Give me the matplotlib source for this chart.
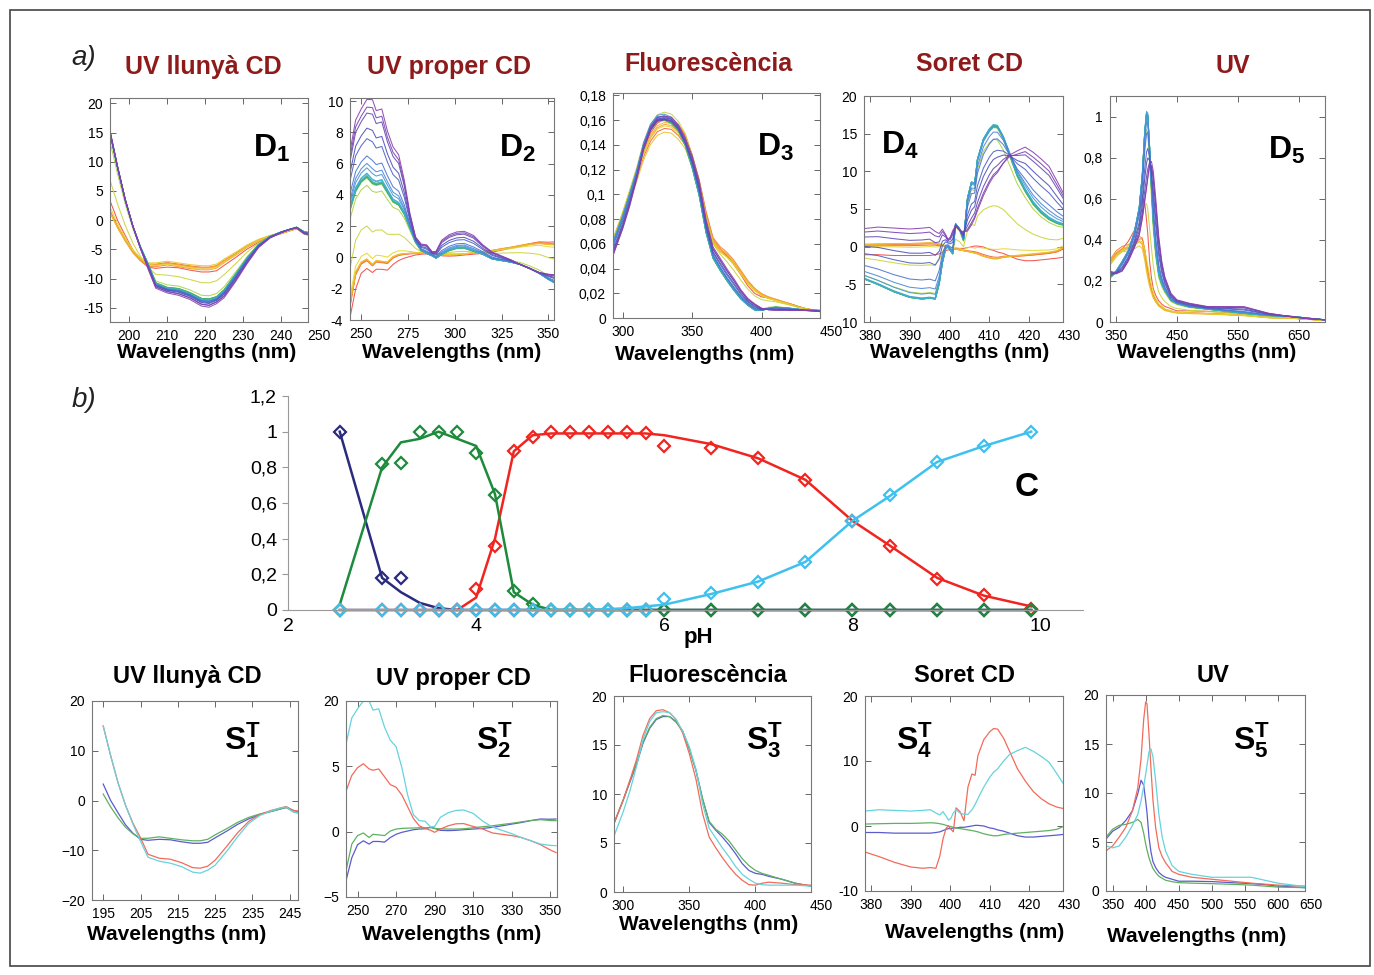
import matplotlib
matplotlib.use("Agg")
import matplotlib.pyplot as plt
import numpy as np
from matplotlib import font_manager
from matplotlib.colors import LinearSegmentedColormap
from matplotlib.patches import Rectangle

W, H = 1374, 975

# fonts
names = {f.name for f in font_manager.fontManager.ttflist}
WIDE = "Liberation Sans"
NARROW = "Liberation Sans Narrow" if "Liberation Sans Narrow" in names else WIDE
plt.rcParams["font.family"] = [WIDE, "DejaVu Sans"]
plt.rcParams["mathtext.fontset"] = "custom"
plt.rcParams["mathtext.bf"] = WIDE + ":bold"
plt.rcParams["mathtext.rm"] = WIDE

# ---- concentration profiles (C) ----
ph = [2.55, 3.0, 3.2, 3.4, 3.6, 3.8, 4.0, 4.2, 4.4, 4.6, 4.8, 5.0, 5.2,
      5.4, 5.6, 5.8, 6.0, 6.5, 7.0, 7.5, 8.0, 8.4, 8.9, 9.4, 9.9]
c1_fit = [1.0, 0.18, 0.10, 0.04, 0.01, 0, 0, 0, 0, 0, 0, 0, 0,
          0, 0, 0, 0, 0, 0, 0, 0, 0, 0, 0, 0]
c2_fit = [0.03, 0.80, 0.94, 0.96, 1.0, 0.96, 0.92, 0.65, 0.10, 0.03, 0, 0, 0,
          0, 0, 0, 0, 0, 0, 0, 0, 0, 0, 0, 0]
c3_fit = [0, 0, 0, 0, 0, 0, 0.07, 0.40, 0.89, 0.98, 0.99, 0.99, 0.99,
          0.99, 0.99, 0.99, 0.98, 0.93, 0.85, 0.73, 0.50, 0.36, 0.18, 0.08, 0.02]
c4_fit = [0, 0, 0, 0, 0, 0, 0, 0, 0, 0, 0, 0, 0,
          0.005, 0.01, 0.02, 0.03, 0.09, 0.16, 0.27, 0.50, 0.64, 0.83, 0.92, 1.0]
c1_pts = [1.0, 0.18, 0.18, 0, 0, 0, 0, 0, 0, 0, 0, 0, 0,
          0, 0, 0, 0, 0, 0, 0, 0, 0, 0, 0, 0]
c2_pts = [0, 0.82, 0.825, 1.0, 1.0, 1.0, 0.88, 0.645, 0.104, 0.035, 0, 0, 0,
          0, 0, 0, 0, 0, 0, 0, 0, 0, 0, 0, 0]
c3_pts = [0, 0, 0, 0, 0, 0, 0.117, 0.357, 0.894, 0.972, 1.0, 1.0, 1.0,
          1.0, 1.0, 0.993, 0.922, 0.907, 0.85, 0.731, 0.50, 0.357, 0.174, 0.083, 0.005]
c4_pts = [0, 0, 0, 0, 0, 0, 0, 0, 0, 0, 0, 0, 0,
          0, 0, 0, 0.061, 0.096, 0.157, 0.269, 0.50, 0.643, 0.83, 0.922, 0.996]

# ---- pure spectra (S^T), species 1..4 ----
wl1 = [195, 197, 199, 201, 203, 205, 207, 210, 213, 216, 219, 221, 223, 225,
       228, 231, 234, 237, 240, 242, 244, 246, 247]
s1_sp1 = [3.3, 0.0, -2.5, -4.9, -6.6, -7.8, -8.0, -7.8, -7.9, -8.3, -8.6, -8.6, -8.4, -7.5,
          -6.2, -4.8, -3.7, -2.8, -2.2, -1.8, -1.4, -2.0, -2.2]
s1_sp2 = [1.3, -1.3, -3.5, -5.4, -6.7, -7.6, -7.6, -7.3, -7.6, -7.9, -8.1, -8.1, -7.8, -6.9,
          -5.7, -4.4, -3.4, -2.7, -2.2, -1.8, -1.4, -2.3, -2.5]
s1_sp3 = [15.0, 9.0, 3.5, -1.0, -4.6, -7.5, -10.8, -11.6, -11.8, -12.5, -13.5, -13.6, -13.2, -12.0,
          -9.3, -6.5, -4.2, -2.8, -2.0, -1.6, -1.2, -2.0, -2.1]
s1_sp4 = [15.0, 9.0, 3.5, -1.0, -4.8, -8.2, -11.4, -12.2, -12.6, -13.3, -14.4, -14.6, -14.0, -13.0,
          -10.3, -7.3, -4.6, -3.0, -2.1, -1.6, -1.3, -2.3, -2.4]

wl2 = [244, 247, 250, 253, 256, 258, 261, 264, 267, 270, 273, 276, 279, 282, 285, 288,
       290, 293, 297, 301, 305, 310, 315, 320, 325, 330, 335, 340, 345, 350, 353]
s2_sp1 = [-3.75, -2.0, -1.0, -0.7, -0.95, -0.75, -0.75, -0.8, -0.45, -0.2, -0.05, 0.05, 0.15,
          0.2, 0.22, 0.35, 0.25, 0.1, 0.08, 0.1, 0.15, 0.2, 0.25, 0.33, 0.45, 0.58, 0.7,
          0.85, 0.97, 0.95, 0.97]
s2_sp2 = [-3.0, -0.95, -0.3, -0.1, -0.45, -0.2, -0.25, -0.3, 0.05, 0.2, 0.25, 0.27, 0.28,
          0.3, 0.3, 0.3, 0.25, 0.22, 0.2, 0.2, 0.22, 0.3, 0.38, 0.45, 0.55, 0.64, 0.75,
          0.85, 0.92, 0.85, 0.84]
s2_sp3 = [3.1, 4.3, 4.9, 5.2, 4.8, 4.7, 4.8, 4.2, 3.6, 3.4, 2.8, 1.9, 1.0,
          0.45, 0.25, 0.1, -0.05, 0.2, 0.45, 0.6, 0.62, 0.4, 0.2, -0.1, -0.2, -0.3, -0.45,
          -0.7, -1.0, -1.4, -1.6]
s2_sp4 = [6.7, 8.7, 9.4, 10.0, 10.0, 9.3, 9.4, 8.0, 7.0, 6.5, 4.9, 2.8, 1.3,
          0.85, 0.8, 0.35, 0.4, 1.1, 1.45, 1.62, 1.66, 1.4, 0.8, 0.35, 0.1, -0.15, -0.45,
          -0.7, -0.95, -1.05, -1.07]

wl3 = [293, 300, 305, 310, 315, 320, 325, 330, 335, 340, 345, 350, 355, 360,
       365, 370, 375, 380, 385, 390, 395, 400, 405, 410, 420, 430, 442]
s3_sp1 = [7.0, 9.4, 11.2, 13.0, 15.2, 16.7, 17.6, 17.9, 17.9, 17.4, 16.4, 14.6, 12.4, 9.5,
          7.1, 6.3, 5.6, 4.8, 3.9, 2.9, 2.2, 1.9, 1.8, 1.6, 1.3, 0.9, 0.6]
s3_sp2 = [7.0, 9.4, 11.3, 13.2, 15.3, 16.8, 17.7, 18.0, 17.9, 17.3, 16.4, 14.6, 12.4, 9.5,
          7.2, 6.4, 5.9, 5.2, 4.3, 3.4, 2.7, 2.2, 1.9, 1.7, 1.3, 0.9, 0.6]
s3_sp3 = [7.0, 9.4, 11.4, 13.5, 16.0, 17.7, 18.5, 18.6, 18.3, 17.6, 16.2, 14.1, 11.5, 8.0,
          5.6, 4.5, 3.5, 2.6, 1.8, 1.2, 0.75, 0.7, 0.9, 1.0, 0.9, 0.75, 0.7]
s3_sp4 = [5.7, 8.2, 10.3, 12.8, 15.6, 17.4, 18.3, 18.4, 18.3, 17.6, 16.4, 14.8, 12.5, 9.0,
          6.5, 5.5, 4.5, 3.6, 2.6, 1.8, 1.3, 0.9, 0.75, 0.7, 0.7, 0.7, 0.6]

wl4 = [378.5, 382, 386, 390, 393, 395, 396.4, 397.4, 398.2, 399, 399.6, 400.2, 400.8,
       401.5, 402.5, 403.5, 404.5, 405.5, 406.3, 407, 408.5, 410, 411, 412, 413.5, 415,
       417, 419, 421, 423, 425, 427, 428.5]
s4_sp1 = [-1.0, -1.0, -1.1, -1.1, -1.1, -1.1, -1.0, -0.9, -0.7, -0.5, -0.4, -0.4, -0.3,
          -0.3, -0.2, -0.2, -0.1, 0.0, 0.1, 0.1, 0.0, -0.3, -0.4, -0.6, -0.8, -1.1,
          -1.5, -1.7, -1.7, -1.6, -1.5, -1.4, -1.3]
s4_sp2 = [0.3, 0.35, 0.4, 0.4, 0.45, 0.5, 0.45, 0.35, 0.25, 0.1, 0.0, -0.1, -0.2,
          -0.3, -0.4, -0.5, -0.6, -0.7, -0.8, -0.9, -1.2, -1.4, -1.5, -1.5, -1.3, -1.2,
          -1.1, -1.0, -0.9, -0.8, -0.7, -0.5, -0.1]
s4_sp3 = [-4.0, -4.7, -5.6, -6.3, -6.5, -6.4, -6.5, -4.6, -2.0, -0.3, 0.0, -0.5, -0.9,
          2.8, 2.2, 0.8, 6.0, 8.0, 7.8, 10.8, 13.3, 14.5, 15.0, 14.9, 13.5, 11.5,
          8.8, 6.9, 5.3, 4.2, 3.4, 2.9, 2.7]
s4_sp4 = [2.3, 2.5, 2.4, 2.3, 2.4, 2.5, 2.0, 1.7, 2.2, 1.5, 0.9, 1.2, 2.0,
          2.5, 2.0, 1.8, 1.8, 2.5, 3.3, 4.2, 6.0, 7.5, 8.3, 8.8, 10.0, 11.0,
          11.6, 12.1, 11.5, 10.7, 9.8, 8.0, 6.6]

wl5 = [340, 350, 360, 370, 380, 388, 393, 397, 400, 402, 405, 408, 411, 415,
       420, 425, 430, 440, 450, 470, 500, 530, 560, 580, 600, 641, 665, 693]
s5_sp1 = [5.3, 6.1, 6.5, 7.2, 8.2, 9.9, 11.3, 10.8, 9.2, 8.0, 5.5, 4.0, 3.0, 2.4,
          1.9, 1.6, 1.4, 1.2, 1.0, 1.0, 0.96, 0.85, 0.75, 0.65, 0.5, 0.34, 0.25, 0.15]
s5_sp2 = [5.5, 6.3, 6.7, 6.8, 7.0, 7.3, 7.0, 5.9, 4.8, 4.2, 3.4, 2.8, 2.3, 1.9,
          1.5, 1.3, 1.1, 0.95, 0.85, 0.8, 0.75, 0.68, 0.6, 0.5, 0.4, 0.34, 0.25, 0.15]
s5_sp3 = [4.1, 4.6, 5.5, 6.5, 8.2, 10.5, 13.5, 17.5, 19.3, 19.1, 16.0, 12.5, 9.3, 6.5,
          4.4, 3.5, 2.9, 2.0, 1.7, 1.4, 1.2, 1.0, 0.8, 0.7, 0.6, 0.5, 0.35, 0.2]
s5_sp4 = [4.6, 4.4, 4.6, 5.5, 6.7, 7.8, 9.2, 10.7, 11.9, 12.8, 14.2, 14.5, 13.7, 11.3,
          7.8, 5.5, 4.1, 2.6, 2.0, 1.7, 1.4, 1.4, 1.4, 1.1, 0.8, 0.45, 0.3, 0.2]

# scale of each data matrix D relative to C . S^T
d_scale = [1.0, 1.0, 0.0087, 1.08, 0.053]

titles = ["UV llunyà CD", "UV proper CD", "Fluorescència", "Soret CD", "UV"]

# ---- figure ----
fig = plt.figure(figsize=(W / 100, H / 100), dpi=100)


def add_ax(l, t, r, b):
    return fig.add_axes([l / W, 1 - b / H, (r - l) / W, (b - t) / H])


def ftext(x, y, s, **kw):
    fig.text(x / W, 1 - y / H, s, ha="center", va="center", **kw)


def style(ax, xlim, ylim, xt, yt, yl, fam, fs=10):
    ax.set_xlim(xlim)
    ax.set_ylim(ylim)
    inside = [v for v in xt if xlim[0] <= v <= xlim[1]]
    ax.set_xticks(inside, [str(v) for v in inside])
    for v in xt:
        if v not in inside:
            ax.annotate(str(v), (v, 0), xycoords=ax.get_xaxis_transform(),
                        xytext=(0, -5), textcoords="offset points", ha="center",
                        va="top", fontsize=fs, family=fam, annotation_clip=False)
    ax.set_yticks(yt, yl)
    ax.tick_params(direction="in", top=True, right=True, length=4, width=0.7,
                   color="#666", labelsize=fs, pad=5)
    for lab in ax.get_xticklabels() + ax.get_yticklabels():
        lab.set_family(fam)
    for sp in ax.spines.values():
        sp.set_color("#777")
        sp.set_linewidth(0.8)


C_fit = np.array([c1_fit, c2_fit, c3_fit, c4_fit])
specs = [
    (wl1, [s1_sp1, s1_sp2, s1_sp3, s1_sp4]),
    (wl2, [s2_sp1, s2_sp2, s2_sp3, s2_sp4]),
    (wl3, [s3_sp1, s3_sp2, s3_sp3, s3_sp4]),
    (wl4, [s4_sp1, s4_sp2, s4_sp3, s4_sp4]),
    (wl5, [s5_sp1, s5_sp2, s5_sp3, s5_sp4]),
]

rainbow = LinearSegmentedColormap.from_list(
    "rb", ["#f2453d", "#f79a2e", "#e3d72a", "#8fcf4e", "#3fae6a",
           "#3bb6cf", "#4a86db", "#4b4fb8", "#8b3fae"])
d_cols = [rainbow(i / (len(ph) - 1)) for i in range(len(ph))]
s_cols = ["#5b5bd0", "#5fb060", "#f26b5b", "#66d3dc"]

# top row: data matrices D
d_box = [(110, 98, 308, 322), (350, 98, 554, 320), (613, 93, 820, 318),
         (864, 96, 1063, 322), (1110, 96, 1325, 322)]
d_xlim = [(195, 247), (244, 353), (293, 442), (378.5, 428.5), (340, 693)]
d_xt = [[200, 210, 220, 230, 240, 250], [250, 275, 300, 325, 350],
        [300, 350, 400, 450], [380, 390, 400, 410, 420, 430], [350, 450, 550, 650]]
d_ylim = [(-17.4, 20.9), (-4, 10.2), (0, 0.182), (-10, 20), (0, 1.1)]
d_yt = [[-15, -10, -5, 0, 5, 10, 15, 20], [-4, -2, 0, 2, 4, 6, 8, 10],
        [0, 0.02, 0.04, 0.06, 0.08, 0.1, 0.12, 0.14, 0.16, 0.18],
        [-10, -5, 0, 5, 10, 15, 20], [0, 0.2, 0.4, 0.6, 0.8, 1.0]]
d_yl = [[str(v) for v in d_yt[0]], [str(v) for v in d_yt[1]],
        ["0", "0,02", "0,04", "0,06", "0,08", "0,1", "0,12", "0,14", "0,16", "0,18"],
        ["10", "-5", "0", "5", "10", "15", "20"],
        ["0", "0,2", "0,4", "0,6", "0,8", "1"]]
d_lab = [(272, 148), (517, 148), (776, 147), (900, 145), (1287, 150)]
top_title = [(203, 67), (449, 67), (708, 64), (969, 64), (1233, 66)]
top_xlab = [(207, 352), (452, 352), (705, 354), (960, 352), (1207, 352)]

for k in range(5):
    fam = WIDE if k < 2 else NARROW
    ax = add_ax(*d_box[k])
    wl, S = specs[k]
    D = C_fit.T @ np.array(S) * d_scale[k]
    for i in range(len(ph)):
        ax.plot(wl, D[i], color=d_cols[i], lw=0.75, alpha=0.9)
    style(ax, d_xlim[k], d_ylim[k], d_xt[k], d_yt[k], d_yl[k], fam)
    ftext(*d_lab[k], r"$\mathbf{D_%d}$" % (k + 1), fontsize=23)
    ftext(*top_title[k], titles[k], fontsize=18, fontweight="bold",
          color="#8e1b1b", family=fam)
    ftext(*top_xlab[k], "Wavelengths (nm)", fontsize=15, fontweight="bold", family=fam)

# bottom row: pure spectra S^T
s_box = [(92, 701, 298, 900), (346, 701, 557, 897), (614, 696, 811, 892),
         (865, 696, 1063, 891), (1106, 695, 1305, 891)]
s_xlim = [(192, 247.2), (244, 353.5), (293, 442), (378.5, 428.5), (340, 641)]
s_xt = [[195, 205, 215, 225, 235, 245], [250, 270, 290, 310, 330, 350],
        [300, 350, 400, 450], [380, 390, 400, 410, 420, 430],
        [350, 400, 450, 500, 550, 600, 650]]
s_ylim = [(-20, 20), (-5, 10), (0, 20), (-10, 20), (0, 20)]
s_yt = [[-20, -10, 0, 10, 20], [-5, 0, 5, 10], [0, 5, 10, 15, 20],
        [-10, 0, 10, 20], [0, 5, 10, 15, 20]]
s_yl = [["\u221220", "\u221210", "0", "10", "20"], ["\u22125", "0", "5", "20"],
        ["0", "5", "10", "15", "20"], ["-10", "0", "10", "20"],
        ["0", "5", "10", "15", "20"]]
s_lab = [(243, 740), (495, 740), (765, 740), (915, 740), (1252, 740)]
bot_title = [(187, 676), (453, 679), (708, 676), (965, 676), (1213, 676)]
bot_xlab = [(177, 935), (452, 935), (709, 925), (975, 933), (1197, 936)]

for k in range(5):
    fam = WIDE if k < 2 else NARROW
    ax = add_ax(*s_box[k])
    wl, S = specs[k]
    for j in range(4):
        ax.plot(wl, S[j], color=s_cols[j], lw=0.9)
    style(ax, s_xlim[k], s_ylim[k], s_xt[k], s_yt[k], s_yl[k], fam, fs=10)
    ftext(*s_lab[k], r"$\mathbf{S_%d^T}$" % (k + 1), fontsize=23)
    ftext(*bot_title[k], titles[k], fontsize=17, fontweight="bold", family=fam)
    ftext(*bot_xlab[k], "Wavelengths (nm)", fontsize=15, fontweight="bold", family=fam)

# middle: concentration profiles C
ax = add_ax(288, 396, 1083, 610)
c_series = [(c1_fit, c1_pts, "#2a2a7e"), (c3_fit, c3_pts, "#f0251f"),
            (c2_fit, c2_pts, "#1e8a3c"), (c4_fit, c4_pts, "#3ec1ee")]
for fit, pts, col in c_series:
    ax.plot(ph, fit, color=col, lw=1.8, clip_on=False)
    ax.plot(ph, pts, "D", mfc="none", mec=col, ms=6.5, mew=1.6, clip_on=False)
ax.set_xlim(2, 10.45)
ax.set_ylim(0, 1.2)
ax.set_xticks([2, 4, 6, 8, 10], ["2", "4", "6", "8", "10"])
ax.set_yticks([0, 0.2, 0.4, 0.6, 0.8, 1.0, 1.2],
              ["0", "0,2", "0,4", "0,6", "0,8", "1", "1,2"])
ax.tick_params(axis="x", length=0, pad=6, labelsize=14)
ax.tick_params(axis="y", length=4, color="#999", labelsize=14, pad=4)
for lab in ax.get_xticklabels() + ax.get_yticklabels():
    lab.set_family(NARROW)
ax.spines["top"].set_visible(False)
ax.spines["right"].set_visible(False)
ax.spines["left"].set_color("#999")
ax.spines["bottom"].set_color("#999")
ax.set_facecolor("none")
ftext(698, 637, "pH", fontsize=16, fontweight="bold", family=NARROW)
ftext(1027, 487, "C", fontsize=24, fontweight="bold", family=NARROW)

# panel letters and frame
ftext(84, 58, "a)", fontsize=20, style="italic", color="#222")
ftext(84, 400, "b)", fontsize=20, style="italic", color="#222")
fig.patches.append(Rectangle((10 / W, 1 - 966 / H), 1360 / W, 956 / H,
                             transform=fig.transFigure, fill=False,
                             edgecolor="#444", lw=1.2))

fig.savefig("out.png", dpi=100)
